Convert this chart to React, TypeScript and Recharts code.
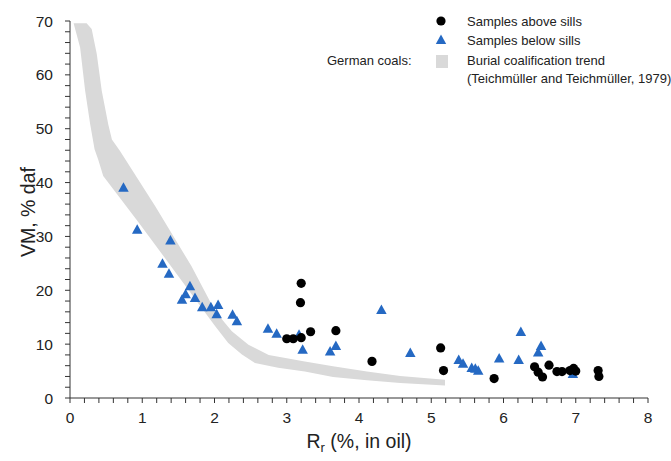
import { ScatterChart, Scatter, XAxis, YAxis } from "recharts";

const FONT = '"Liberation Sans", Arial, Helvetica, sans-serif';
const INK = "#222";
const AXIS = "#333";
const BLUE = "#2569c3";
const BAND = "#d9d9d9";

// Samples above sills: Rr (%, in oil) and VM (% daf)
const aboveRr = [3.0, 3.09, 3.2, 3.2, 3.19, 3.33, 3.68, 4.18, 5.13, 5.17, 5.87, 6.43, 6.48, 6.54, 6.63, 6.74, 6.81, 6.92, 6.97, 7.0, 7.31, 7.32];
const aboveVm = [11.0, 11.0, 11.2, 21.3, 17.7, 12.3, 12.5, 6.8, 9.3, 5.1, 3.6, 5.8, 4.8, 3.9, 6.1, 4.9, 4.9, 5.1, 5.5, 5.0, 5.1, 4.0];

// Samples below sills
const belowRr = [0.74, 0.93, 1.39, 1.28, 1.37, 1.66, 1.6, 1.55, 1.73, 1.83, 1.95, 2.05, 2.03, 2.25, 2.31, 2.74, 2.86, 3.17, 3.22, 3.68, 3.6, 4.31, 4.71, 5.38, 5.44, 5.56, 5.61, 5.65, 5.94, 6.24, 6.21, 6.52, 6.48, 6.96];
const belowVm = [39.1, 31.3, 29.3, 25.0, 23.1, 20.8, 19.3, 18.3, 18.6, 16.9, 16.9, 17.3, 15.6, 15.5, 14.3, 12.9, 12.0, 11.8, 9.0, 9.7, 8.7, 16.4, 8.4, 7.1, 6.4, 5.6, 5.5, 5.1, 7.4, 12.3, 7.1, 9.7, 8.5, 4.5];

// German coals, burial coalification trend (band outline)
const trendUpperRr = [0.05, 0.23, 0.3, 0.37, 0.44, 0.53, 0.58, 0.69, 1.18, 1.68, 2.01, 2.24, 2.47, 2.75, 3.25, 3.64, 4.11, 4.57, 5.19];
const trendUpperVm = [69.6, 69.6, 68.5, 63.9, 57.0, 50.8, 48.0, 45.9, 35.6, 24.5, 16.1, 12.4, 9.9, 8.0, 6.8, 5.9, 4.9, 4.1, 3.4];
const trendLowerRr = [0.05, 0.14, 0.21, 0.28, 0.34, 0.39, 0.46, 0.95, 1.77, 2.01, 2.19, 2.38, 2.56, 2.88, 3.25, 3.64, 4.11, 4.57, 5.19];
const trendLowerVm = [69.6, 65.1, 57.0, 50.8, 46.2, 44.3, 41.2, 32.6, 17.7, 13.3, 10.2, 8.1, 6.5, 5.6, 4.9, 3.9, 3.3, 2.8, 2.3];

const xLabels = [0, 1, 2, 3, 4, 5, 6, 7, 8];
const yLabels = [0, 10, 20, 30, 40, 50, 60, 70];
// minor ticks: 0.2 on Rr, 2 on VM
const xTicks = Array.from({ length: 41 }, (_, i) => i / 5);
const yTicks = Array.from({ length: 36 }, (_, i) => i * 2);

const zip = (xs: number[], ys: number[]) => xs.map((x, i) => ({ x, y: ys[i] }));

const aboveData = zip(aboveRr, aboveVm);
const belowData = zip(belowRr, belowVm);
const trendData = [
  ...zip(trendUpperRr, trendUpperVm),
  ...zip(trendLowerRr, trendLowerVm).reverse(),
];

const Dot = (p: any) => <circle cx={p.cx} cy={p.cy} r={4.6} fill="#000" />;

const Tri = (p: any) => {
  const { cx, cy } = p;
  const w = 10.5;
  const h = 9.5;
  return (
    <polygon
      points={`${cx},${cy - h * 0.55} ${cx + w / 2},${cy + h * 0.45} ${cx - w / 2},${cy + h * 0.45}`}
      fill={BLUE}
    />
  );
};

const NoMark = () => <g />;

// fill the outline of the trend band instead of stroking it
const BandFill = (p: any) => {
  const pts: { x: number; y: number }[] = p.points || [];
  if (!pts.length) return <g />;
  const d = "M" + pts.map((q) => `${q.x},${q.y}`).join("L") + "Z";
  return <path d={d} fill={BAND} stroke="none" />;
};

function Legend() {
  const text = { fontFamily: FONT, fontSize: 13, fill: INK } as const;
  return (
    <svg
      width={671}
      height={461}
      style={{ position: "absolute", left: 0, top: 0, pointerEvents: "none" }}
    >
      <circle cx={441} cy={21} r={4.6} fill="#000" />
      <text x={467} y={21} dy="0.35em" {...text}>Samples above sills</text>
      <polygon points="441,34.5 446.2,44 435.8,44" fill={BLUE} />
      <text x={467} y={40} dy="0.35em" {...text}>Samples below sills</text>
      <text x={327} y={60} dy="0.35em" {...text}>German coals:</text>
      <rect x={436} y={55} width={12} height={13} fill={BAND} />
      <text x={467} y={60} dy="0.35em" {...text}>Burial coalification trend</text>
      <text x={467} y={78} dy="0.35em" {...text}>(Teichmüller and Teichmüller, 1979)</text>
    </svg>
  );
}

export default function App() {
  return (
    <div style={{ position: "absolute", left: 0, top: 0, width: 671, height: 461, background: "#fff" }}>
      <ScatterChart width={671} height={461} margin={{ top: 21, right: 23, bottom: 23, left: 10 }}>
        <XAxis
          type="number"
          dataKey="x"
          domain={[0, 8]}
          ticks={xTicks}
          interval={0}
          allowDataOverflow
          height={40}
          tickSize={5}
          tickMargin={9}
          tickFormatter={(v: number) => (xLabels.includes(v) ? String(v) : "")}
          stroke={AXIS}
          tick={{ fontSize: 15.5, fill: INK, fontFamily: FONT }}
          label={{
            content: () => (
              <text x={359} y={441} dy="0.35em" textAnchor="middle" fontSize={19.5} fontFamily={FONT} fill={INK}>
                R
                <tspan fontSize={13} dy={4}>r</tspan>
                <tspan dy={-4}> (%, in oil)</tspan>
              </text>
            ),
          }}
        />
        <YAxis
          type="number"
          dataKey="y"
          domain={[0, 70]}
          ticks={yTicks}
          interval={0}
          allowDataOverflow
          width={60}
          tickSize={5}
          tickMargin={12}
          tickFormatter={(v: number) => (yLabels.includes(v) ? String(v) : "")}
          stroke={AXIS}
          tick={{ fontSize: 15.5, fill: INK, fontFamily: FONT }}
          label={{
            content: () => (
              <text
                x={0}
                y={0}
                dy="0.35em"
                textAnchor="middle"
                fontSize={19.5}
                fontFamily={FONT}
                fill={INK}
                transform="translate(28 212) rotate(-90)"
              >
                VM, % daf
              </text>
            ),
          }}
        />
        <Scatter
          name="Burial coalification trend"
          data={trendData}
          shape={NoMark}
          line={BandFill}
          lineType="joint"
          isAnimationActive={false}
        />
        <Scatter name="Samples below sills" data={belowData} shape={Tri} isAnimationActive={false} />
        <Scatter name="Samples above sills" data={aboveData} shape={Dot} isAnimationActive={false} />
      </ScatterChart>
      <Legend />
    </div>
  );
}
